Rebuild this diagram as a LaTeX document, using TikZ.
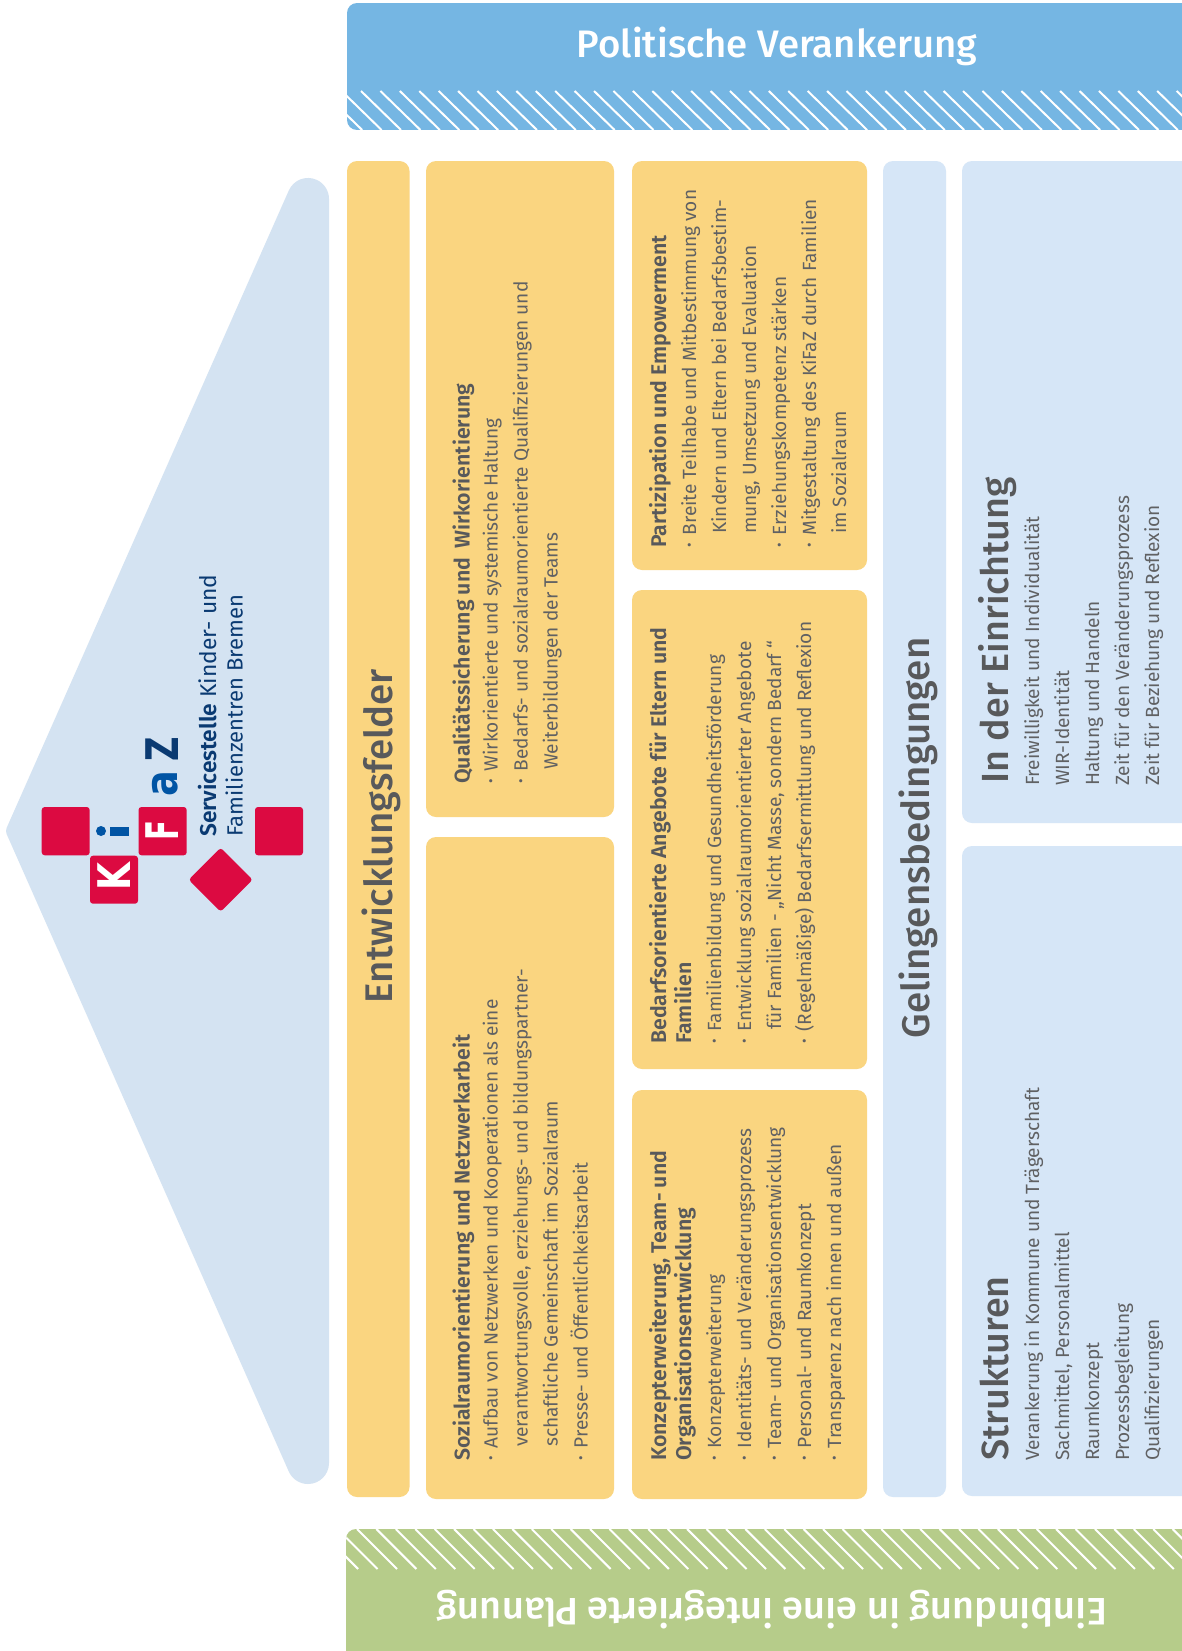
\documentclass[tikz,border=0pt]{standalone}
\usepackage{fontspec}
\setmainfont{Fira Sans}[BoldFont={Fira Sans SemiBold}]
\newfontfamily\medfont{Fira Sans Medium}
\newfontfamily\logofont{DejaVu Sans}[BoldFont={DejaVu Sans Bold}]
\definecolor{housecol}{HTML}{D4E3F2}
\definecolor{palecol}{HTML}{D6E6F7}
\definecolor{yellowcol}{HTML}{FAD580}
\definecolor{bluecol}{HTML}{75B6E3}
\definecolor{greencol}{HTML}{B6CC8A}
\definecolor{inkcol}{HTML}{58595B}
\definecolor{bodycol}{HTML}{606163}
\definecolor{redcol}{HTML}{DC0A41}
\definecolor{midblue}{HTML}{0054A4}
\definecolor{navycol}{HTML}{0A3A72}
\tikzset{
 panel/.style={rounded corners=10pt},
 hatchline/.style={draw=white,line width=2pt},
 blocktext/.style={rotate=90,anchor=north west,inner sep=0pt,align=left,text=bodycol,
   font=\fontsize{19.1}{30}\selectfont},
 bartext/.style={rotate=90,anchor=center,inner sep=0pt,text=inkcol,font=\medfont\fontsize{38.5}{40}\selectfont},
 headtext/.style={rotate=90,anchor=base west,inner sep=0pt,text=inkcol,font=\medfont\fontsize{37.8}{40}\selectfont},
 bannertext/.style={text=white,inner sep=0pt,font=\medfont\fontsize{38.3}{40}\selectfont},
 redsq/.style={fill=redcol,rounded corners=3pt},
 logoletter/.style={inner sep=0pt,font=\logofont\fontsize{45}{45}\selectfont\bfseries},
 logotext/.style={rotate=90,anchor=base west,inner sep=0pt,text=navycol,font=\fontsize{22.8}{26}\selectfont},
}
\newcommand{\txtblock}[4]{\node[blocktext] (#1) at (#2-18,#3) {\rule{0pt}{18pt}#4};}
\newcommand{\hd}[1]{{\color{inkcol}\bfseries\fontsize{21.3}{30}\selectfont #1}}
\newcommand{\ind}{\hspace*{14pt}}
\newcommand{\bul}{\makebox[12.5pt][l]{\raisebox{2pt}{\fontsize{14}{10}\selectfont•}}}
\begin{document}
\begin{tikzpicture}[x=1pt,y=-1pt]
\useasboundingbox (0,0) rectangle (1182,1651);
\clip (0,0) rectangle (1182,1651);
\fill[white] (0,0) rectangle (1182,1651);
% house
\fill[housecol] (288.8,190.5) arc[start angle=156.2,end angle=0,radius=21pt]
  -- (329,1463) arc[start angle=0,end angle=-156.2,radius=21pt]
  -- (6.7,834.2) arc[start angle=203.8,end angle=156.2,radius=8pt] -- cycle;
% logo
\fill[redsq] (41.7,807) rectangle (89.7,855.3);
\fill[redsq] (138.5,807) rectangle (186.7,855.3);
\fill[redsq] (255,807) rectangle (303,855.3);
\fill[redsq] (90,855.7) rectangle (138,903.7);
\fill[redcol,rounded corners=3pt] (220.7,847.7) -- (252.7,879.7) -- (220.7,911.7) -- (188.7,879.7) -- cycle;
\node[logoletter,text=white,rotate=90,xscale=.8] (lk) at (114,876.7) {K};
\node[logoletter,text=white,rotate=90,xscale=.65] (lf) at (162,830) {F};
\fill[midblue] (110,826.7) rectangle (129,836);
\fill[midblue] (101,831) circle[radius=5pt];
\node[logoletter,text=midblue,rotate=90,xscale=.85] (la) at (165.5,783.5) {a};
\node[logoletter,text=navycol,rotate=90,xscale=.75] (lz) at (162.5,749) {Z};
\node[logotext] (svc) at (216.7,837) {\textbf{Servicestelle} Kinder- und};
\node[logotext,font=\fontsize{22}{26}\selectfont] (fam) at (242.7,837) {Familienzentren Bremen};
% banners
\begin{scope}
\clip[panel] (347,3) rectangle (1210,130);
\fill[bluecol] (347,3) rectangle (1210,130);
\foreach \k in {-2,...,44} \draw[hatchline] ({361+19.42*\k},91) -- ({401+19.42*\k},130);
\end{scope}
\begin{scope}
\clip[panel] (346,1529) rectangle (1210,1670);
\fill[greencol] (346,1529) rectangle (1210,1670);
\foreach \k in {-2,...,44} \draw[hatchline] ({357+19.42*\k},1529) -- ({397+19.42*\k},1569);
\end{scope}
\node[bannertext] (polit) at (777,46) {Politische Verankerung};
\node[bannertext,rotate=180] (einb) at (772,1610) {Einbindung in eine integrierte Planung};
% panels
\fill[yellowcol,panel] (347,161) rectangle (409.5,1497);
\fill[yellowcol,panel] (426,161) rectangle (614,817);
\fill[yellowcol,panel] (426,837) rectangle (614,1499);
\fill[yellowcol,panel] (632,161) rectangle (867,570);
\fill[yellowcol,panel] (632,590) rectangle (867,1069);
\fill[yellowcol,panel] (632,1090) rectangle (867,1499);
\fill[palecol,panel] (883,161) rectangle (946,1497);
\fill[palecol,panel] (962,161) rectangle (1210,823);
\fill[palecol,panel] (962,846) rectangle (1210,1496);
% bar titles
\node[bartext] (entw) at (381,836) {Entwicklungsfelder};
\node[bartext] (geling) at (918,838) {Gelingensbedingungen};
% blocks
\txtblock{qual}{469.5}{784}{\hd{Qualitätssicherung und\hspace{4pt} Wirkorientierung}\\[-2pt]\bul Wirkorientierte und systemische Haltung\\\bul Bedarfs- und sozialraumorientierte Qualifizierungen und\\\ind Weiterbildungen der Teams}
\txtblock{sozial}{469.5}{1461}{\hd{Sozialraumorientierung und Netzwerkarbeit}\\[-2pt]\bul Aufbau von Netzwerken und Kooperationen als eine\\\ind verantwortungsvolle, erziehungs- und bildungspartner-\\\ind schaftliche Gemeinschaft im Sozialraum\\\bul Presse- und Öffentlichkeitsarbeit}
\txtblock{partiz}{666}{548}{\hd{Partizipation und Empowerment}\\\bul Breite Teilhabe und Mitbestimmung von\\\ind Kindern und Eltern bei Bedarfsbestim-\\\ind mung, Umsetzung und Evaluation\\\bul Erziehungskompetenz stärken\\\bul Mitgestaltung des KiFaZ durch Familien\\\ind im Sozialraum}
\txtblock{bedarf}{666}{1044}{\hd{Bedarfsorientierte Angebote für Eltern und}\\[-5pt]\hd{Familien}\\\bul Familienbildung und Gesundheitsförderung\\\bul Entwicklung sozialraumorientierter Angebote\\\ind für Familien - „Nicht Masse, sondern Bedarf “\\\bul (Regelmäßige) Bedarfsermittlung und Reflexion}
\txtblock{konz}{666}{1461}{\hd{Konzepterweiterung, Team- und}\\[-5pt]\hd{Organisationsentwicklung}\\\bul Konzepterweiterung\\\bul Identitäts- und Veränderungsprozess\\\bul Team- und Organisationsentwicklung\\\bul Personal- und Raumkonzept\\\bul Transparenz nach innen und außen}
\node[headtext] (einrh) at (1008.5,784) {In der Einrichtung};
\txtblock{einr}{1039}{786}{Freiwilligkeit und Individualität\\WIR-Identität\\Haltung und Handeln\\Zeit für den Veränderungsprozess\\Zeit für Beziehung und Reflexion}
\node[headtext] (struh) at (1008.5,1461) {Strukturen};
\txtblock{strukt}{1039}{1461}{Verankerung in Kommune und Trägerschaft\\Sachmittel, Personalmittel\\Raumkonzept\\Prozessbegleitung\\Qualifizierungen}
\end{tikzpicture}
\end{document}
